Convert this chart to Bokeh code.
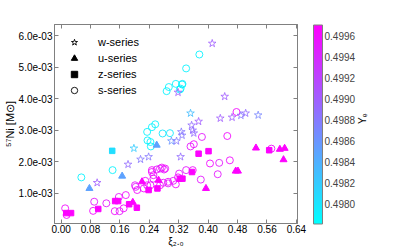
import math
import numpy as np
from bokeh.plotting import figure
from bokeh.models import (ColumnDataSource, LinearColorMapper, ColorBar, FixedTicker,
                          CustomJSTickFormatter, PrintfTickFormatter, LinearAxis, Range1d,
                          Legend, LegendItem)
from bokeh.embed import file_html
from bokeh.resources import INLINE

# ---------------- data ----------------
# w-series (stars)
w_xi = [0.411, 0.445, 0.318, 0.352, 0.374, 0.355, 0.433, 0.465, 0.489, 0.502, 0.536, 0.327,
        0.329, 0.358, 0.361, 0.300, 0.314, 0.325, 0.216, 0.238, 0.198, 0.182, 0.098]
w_ni = [5.75e-3, 4.07e-3, 4.20e-3, 3.54e-3, 3.28e-3, 3.16e-3, 3.38e-3, 3.41e-3, 3.47e-3, 3.54e-3,
        3.48e-3, 2.95e-3, 2.84e-3, 3.00e-3, 2.91e-3, 2.66e-3, 2.66e-3, 2.16e-3, 2.08e-3, 2.16e-3,
        2.43e-3, 1.92e-3, 1.34e-3]
w_ye = [0.4990, 0.4990, 0.4990, 0.4983, 0.4990, 0.4989, 0.4990, 0.4990, 0.4988, 0.4989, 0.4987,
        0.4988, 0.4988, 0.4989, 0.4989, 0.4986, 0.4988, 0.4989, 0.4988, 0.4988, 0.4982, 0.4989, 0.4990]

# u-series (triangles)
u_xi = [0.077, 0.166, 0.260, 0.220, 0.265, 0.195, 0.394, 0.530, 0.595, 0.608, 0.605, 0.475, 0.481]
u_ni = [1.16e-3, 1.55e-3, 2.53e-3, 1.37e-3, 1.42e-3, 0.72e-3, 1.16e-3, 2.44e-3, 2.40e-3, 2.43e-3,
        2.07e-3, 1.71e-3, 1.71e-3]
u_ye = [0.4985, 0.4985, 0.4985, 0.49968, 0.49968, 0.49968, 0.49968, 0.49968, 0.49968, 0.49968,
        0.49968, 0.49968, 0.49968]

# z-series (squares)
z_xi = [0.139, 0.014, 0.027, 0.101, 0.147, 0.155, 0.185, 0.206, 0.238, 0.262, 0.323, 0.330,
        0.356, 0.374, 0.401, 0.566]
z_ni = [2.35e-3, 0.38e-3, 0.38e-3, 0.51e-3, 0.76e-3, 0.76e-3, 0.66e-3, 0.55e-3, 1.11e-3, 1.16e-3,
        1.47e-3, 1.47e-3, 1.68e-3, 2.26e-3, 2.34e-3, 2.37e-3]
z_ye = [0.49806, 0.49968, 0.49968, 0.49968, 0.49968, 0.49968, 0.49968, 0.49968, 0.49968, 0.49968,
        0.49968, 0.49968, 0.49968, 0.49968, 0.49968, 0.49968]

# s-series (circles)
s_xi = [0.376, 0.340, 0.329, 0.323, 0.287, 0.293, 0.312, 0.330, 0.325, 0.234, 0.256, 0.247,
        0.235, 0.243, 0.244, 0.276, 0.296, 0.055, 0.140,
        0.477,
        0.383, 0.361, 0.352, 0.405, 0.380, 0.358, 0.340, 0.247, 0.260, 0.274, 0.280, 0.251,
        0.229, 0.203, 0.207, 0.278, 0.291, 0.305, 0.312, 0.318, 0.321, 0.225, 0.234, 0.452,
        0.430, 0.459, 0.426, 0.572, 0.011, 0.015, 0.090, 0.087, 0.123, 0.146, 0.159, 0.170,
        0.157, 0.176, 0.201, 0.243, 0.251, 0.269, 0.291, 0.247, 0.269, 0.283]
s_ni = [5.40e-3, 4.96e-3, 4.45e-3, 4.29e-3, 4.24e-3, 4.37e-3, 4.47e-3, 4.47e-3, 4.32e-3, 2.95e-3,
        3.19e-3, 3.10e-3, 2.68e-3, 2.63e-3, 2.49e-3, 2.90e-3, 2.91e-3, 1.51e-3, 1.74e-3,
        3.58e-3,
        2.79e-3, 2.56e-3, 2.49e-3, 1.95e-3, 1.44e-3, 1.74e-3, 1.74e-3, 1.74e-3, 1.76e-3, 1.82e-3,
        1.76e-3, 1.58e-3, 1.40e-3, 1.21e-3, 1.11e-3, 1.34e-3, 1.37e-3, 1.40e-3, 1.29e-3, 1.51e-3,
        1.63e-3, 1.16e-3, 1.26e-3, 2.82e-3, 1.97e-3, 2.05e-3, 1.61e-3, 2.42e-3, 0.53e-3, 0.32e-3,
        0.74e-3, 0.45e-3, 0.69e-3, 0.44e-3, 0.44e-3, 0.53e-3, 0.89e-3, 0.95e-3, 1.26e-3, 1.26e-3,
        1.47e-3, 1.26e-3, 1.32e-3, 1.68e-3, 1.79e-3, 1.79e-3]
s_ye = [0.4979, 0.4979, 0.4979, 0.4979, 0.4979, 0.4979, 0.4979, 0.4979, 0.4979, 0.4979,
        0.4979, 0.4979, 0.4979, 0.4979, 0.4979, 0.4980, 0.4980, 0.4979, 0.4979,
        0.4996,
        0.4995, 0.4996, 0.4995, 0.4996, 0.4995, 0.4996, 0.4995, 0.4996, 0.4995, 0.4996,
        0.4995, 0.4996, 0.4996, 0.4995, 0.4996, 0.4995, 0.4996, 0.4995, 0.4996, 0.4996,
        0.4995, 0.4996, 0.4995, 0.4996, 0.4995, 0.4996, 0.4995, 0.4996, 0.4996, 0.4996,
        0.4995, 0.4996, 0.4995, 0.4996, 0.4995, 0.4996, 0.4995, 0.4996, 0.4995, 0.4996,
        0.4995, 0.4996, 0.4995, 0.4996, 0.4995, 0.4996]

x_ticks = [0.00, 0.08, 0.16, 0.24, 0.32, 0.40, 0.48, 0.56, 0.64]
y_ticks = [1e-3, 2e-3, 3e-3, 4e-3, 5e-3, 6e-3]
cb_ticks = [0.4980, 0.4982, 0.4984, 0.4986, 0.4988, 0.4990, 0.4992, 0.4994, 0.4996]
YE_LOW, YE_HIGH = 0.49781, 0.49970

# ---------------- figure ----------------
FONT = "Liberation Sans"
GRAY = "#808080"
tt = np.linspace(0, 1, 256)
palette = ["#%02x%02x%02x" % (int(round(255 * v)), int(round(255 * (1 - v))), 255) for v in tt]
mapper = LinearColorMapper(palette=palette, low=YE_LOW, high=YE_HIGH)

p = figure(width=399, height=249, output_backend="svg", toolbar_location=None,
           x_range=Range1d(-0.018, 0.643), y_range=Range1d(0.05e-3, 6.35e-3),
           min_border_left=49, min_border_top=24, min_border_right=102, min_border_bottom=26)
p.grid.visible = False
p.outline_line_color = GRAY
p.xaxis.visible = False
p.yaxis.visible = False

yfmt = CustomJSTickFormatter(code="""
var s = tick.toExponential(1);
var parts = s.split('e');
var e = parseInt(parts[1]);
var a = Math.abs(e);
return parts[0] + 'e' + (e < 0 ? '-' : '+') + (a < 10 ? '0' + a : '' + a);
""")
blank = CustomJSTickFormatter(code="return '';")


def style(ax):
    ax.axis_line_color = GRAY
    ax.major_tick_line_color = GRAY
    ax.major_tick_in = 4
    ax.major_tick_out = 0
    ax.minor_tick_line_color = None
    ax.major_label_text_font = FONT
    ax.major_label_text_font_size = "10px"
    ax.major_label_text_color = "black"
    ax.axis_label_text_font = FONT
    ax.axis_label_text_font_size = "10px"
    ax.axis_label_text_font_style = "normal"
    ax.axis_label_text_color = "black"
    return ax


xb = style(LinearAxis(ticker=FixedTicker(ticks=x_ticks), formatter=PrintfTickFormatter(format="%.2f"),
                      axis_label="ξ₂.₀"))
xb.major_label_standoff = 1
xb.axis_label_standoff = 0
yl = style(LinearAxis(ticker=FixedTicker(ticks=y_ticks), formatter=yfmt, axis_label="⁵⁷Ni [M⊙]"))
yl.major_label_standoff = 2
yl.axis_label_standoff = 0
yl.axis_label_text_font_size = "11px"
xt = style(LinearAxis(ticker=FixedTicker(ticks=x_ticks), formatter=blank))
xt.major_label_standoff = 0
yr = style(LinearAxis(ticker=FixedTicker(ticks=y_ticks), formatter=blank))
yr.major_label_standoff = 0
p.add_layout(xb, "below")
p.add_layout(yl, "left")
p.add_layout(xt, "above")
p.add_layout(yr, "right")

fill = {"field": "ye", "transform": mapper}
src_s = ColumnDataSource(dict(x=s_xi, y=s_ni, ye=s_ye))
src_w = ColumnDataSource(dict(x=w_xi, y=w_ni, ye=w_ye))
src_u = ColumnDataSource(dict(x=u_xi, y=u_ni, ye=u_ye))
src_z = ColumnDataSource(dict(x=z_xi, y=z_ni, ye=z_ye))

p.scatter("x", "y", source=src_s, marker="circle", size=7, fill_color=None, line_color=fill, line_width=0.9)
p.scatter("x", "y", source=src_w, marker="star", size=8, fill_color=None, line_color=fill, line_width=0.8)
p.scatter("x", "y", source=src_u, marker="triangle", size=7, fill_color=fill, line_color=fill)
p.scatter("x", "y", source=src_z, marker="square", size=5.5, fill_color=fill, line_color=fill)

# legend proxies (black markers, hidden in the plot)
lw = p.scatter("x", "y", source=src_w, marker="star", line_color="black", fill_color=None, line_width=0.9, visible=False)
lu = p.scatter("x", "y", source=src_u, marker="triangle", line_color="black", fill_color="black", visible=False)
lz = p.scatter("x", "y", source=src_z, marker="square", line_color="black", fill_color="black", visible=False)
ls = p.scatter("x", "y", source=src_s, marker="circle", line_color="black", fill_color=None, line_width=0.9, visible=False)
legend = Legend(items=[LegendItem(label="w-series", renderers=[lw]),
                       LegendItem(label="u-series", renderers=[lu]),
                       LegendItem(label="z-series", renderers=[lz]),
                       LegendItem(label="s-series", renderers=[ls])],
                location="top_left", margin=0, padding=10, spacing=0,
                glyph_width=20, glyph_height=16, label_height=16, label_standoff=14,
                label_text_font=FONT, label_text_font_size="11px", label_text_color="black",
                background_fill_alpha=0, border_line_alpha=0, inactive_fill_alpha=0)
p.add_layout(legend)

cb = ColorBar(color_mapper=mapper, width=9, height=199, padding=16, margin=0,
              location="center_left",
              ticker=FixedTicker(ticks=cb_ticks), formatter=PrintfTickFormatter(format="%.4f"),
              major_label_text_font=FONT, major_label_text_font_size="10px",
              label_standoff=2, major_tick_in=0, major_tick_out=0,
              major_tick_line_color=None, bar_line_color=GRAY,
              background_fill_alpha=0, border_line_color=None)
p.add_layout(cb, "right")

ye_ax = LinearAxis(ticker=FixedTicker(ticks=[]), formatter=blank, axis_label="Yₑ", axis_line_color=None,
                   major_tick_line_color=None, minor_tick_line_color=None,
                   major_tick_in=0, major_tick_out=0, minor_tick_out=0, major_label_standoff=0,
                   axis_label_text_font=FONT, axis_label_text_font_size="10px",
                   axis_label_text_font_style="normal", axis_label_text_color="black",
                   axis_label_standoff=-12)
if "axis_label_orientation" in LinearAxis.properties():
    ye_ax.axis_label_orientation = math.pi / 2
p.add_layout(ye_ax, "right")

open("out.html", "w").write(file_html(p, INLINE))
